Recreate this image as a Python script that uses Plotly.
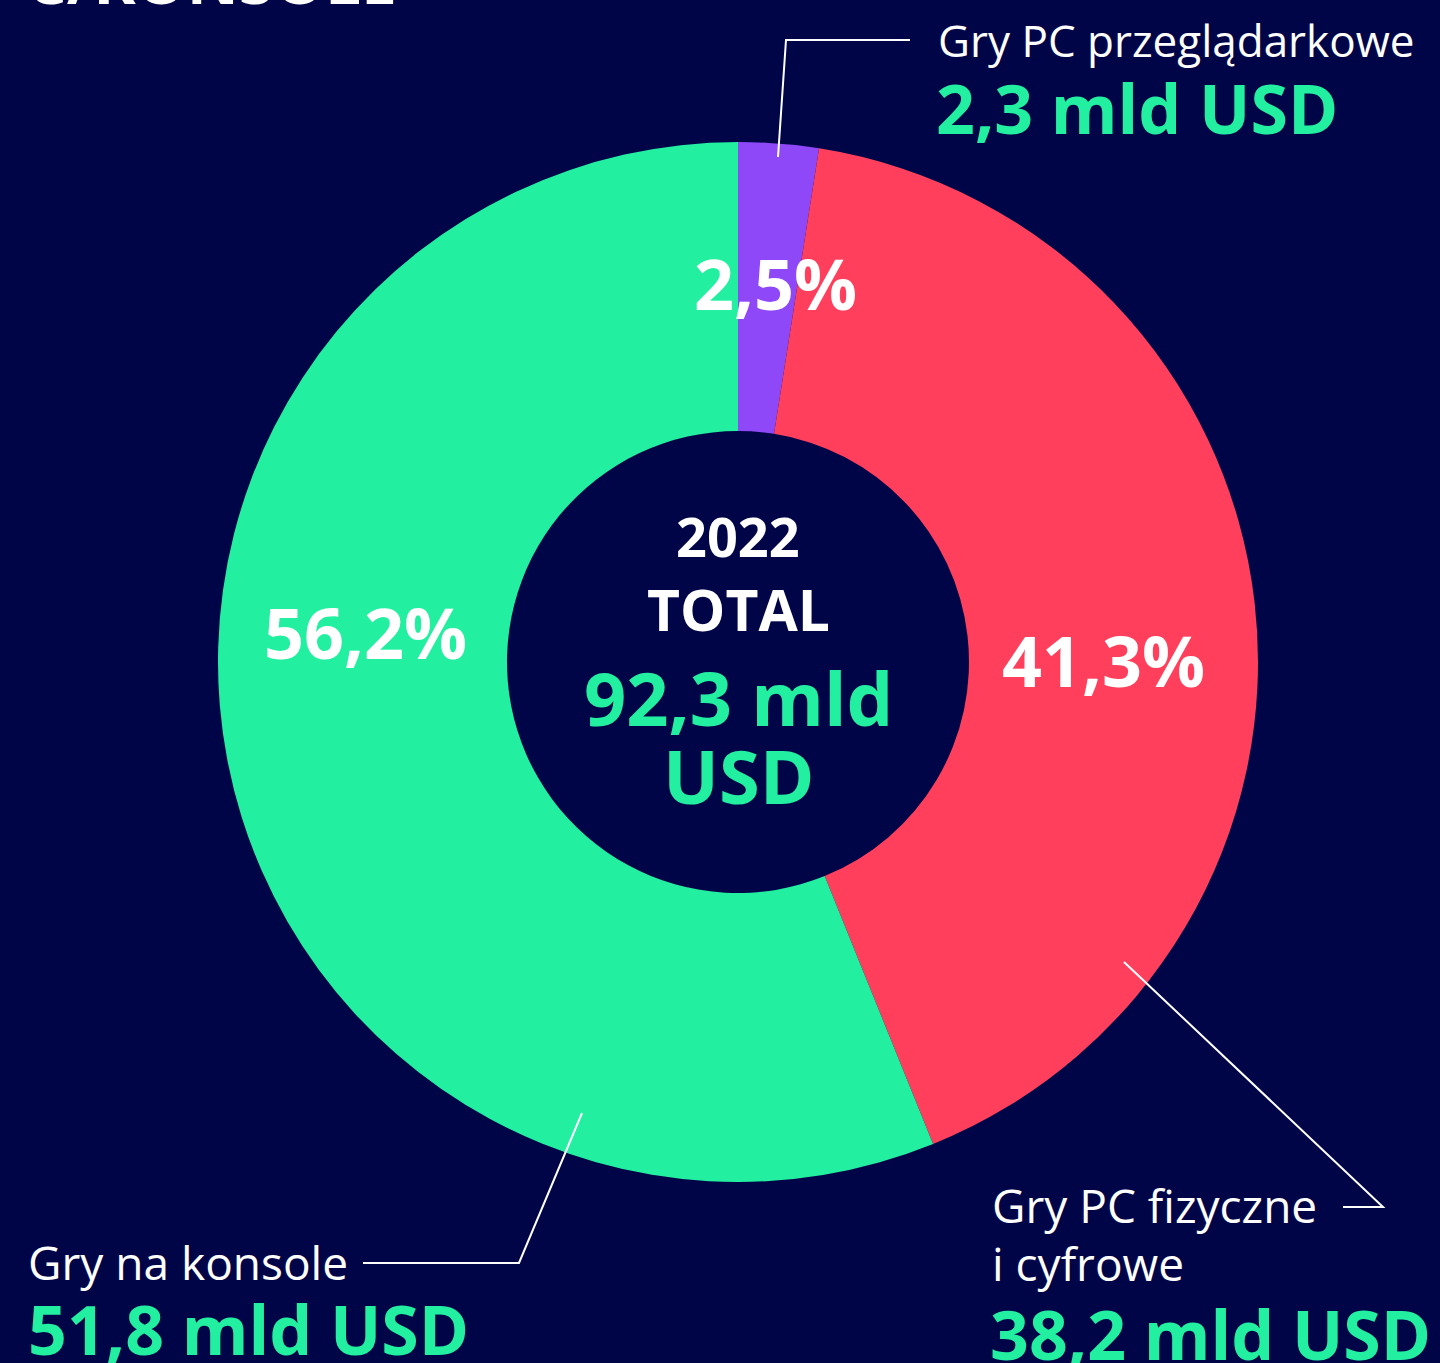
import plotly.graph_objects as go

categories = ["Gry PC przeglądarkowe", "Gry PC fizyczne i cyfrowe", "Gry na konsole"]
values = [2.3, 38.2, 51.8]
pct_labels = ["2,5%", "41,3%", "56,2%"]
value_labels = ["2,3 mld USD", "38,2 mld USD", "51,8 mld USD"]
colors = ["#8F48F7", "#FF3F5B", "#22F0A0"]
total_year = "2022"
total_label = "TOTAL"
total_value_lines = ["92,3 mld", "USD"]

BG = "#000548"
GREEN = "#22F0A0"
W, H = 1440, 1363
FONT = "Open Sans"

cx, cy, R = 738, 662, 520

fig = go.Figure()
fig.add_trace(go.Pie(
    labels=categories,
    values=values,
    marker=dict(colors=colors, line=dict(width=0)),
    hole=231 / 520,
    sort=False,
    direction="clockwise",
    rotation=0,
    textinfo="none",
    hoverinfo="label+value",
    showlegend=False,
    domain=dict(x=[(cx - R) / W, (cx + R) / W], y=[(H - cy - R) / H, (H - cy + R) / H]),
))

# invisible pixel axes for annotations/shapes
fig.add_trace(go.Scatter(x=[0, W], y=[0, H], mode="markers", marker=dict(opacity=0),
                         hoverinfo="skip", showlegend=False))

ann = []
def txt(x, y, s, size, color="white", bold=False, xanchor="center", yanchor="middle"):
    ann.append(dict(x=x, y=y, xref="x", yref="y", text=f"<b>{s}</b>" if bold else s,
                    showarrow=False, xanchor=xanchor, yanchor=yanchor,
                    font=dict(family=FONT, size=size, color=color)))

# cut-off heading at top
txt(24, 25, "C/KONSOLE", 64, bold=True, xanchor="left", yanchor="bottom")

# inner percentage labels
txt(775, 283, pct_labels[0], 70, bold=True)
txt(1103, 660, pct_labels[1], 70, bold=True)
txt(365, 632, pct_labels[2], 70, bold=True)

# centre
txt(738, 536, total_year, 54, bold=True)
txt(738, 609, total_label, 57, bold=True)
txt(738, 697, total_value_lines[0], 74, color=GREEN, bold=True)
txt(738, 775, total_value_lines[1], 74, color=GREEN, bold=True)

# outer labels
txt(936, 40, categories[0], 44, xanchor="left")
txt(934, 107, value_labels[0], 68, color=GREEN, bold=True, xanchor="left")
txt(990, 1205, "Gry PC fizyczne", 46, xanchor="left")
txt(990, 1263, "i cyfrowe", 46, xanchor="left")
txt(988, 1333, value_labels[1], 68, color=GREEN, bold=True, xanchor="left")
txt(26, 1262, categories[2], 46, xanchor="left")
txt(26, 1328, value_labels[2], 68, color=GREEN, bold=True, xanchor="left")

line = dict(color="white", width=2)
shapes = [
    dict(type="path", path="M 778 157 L 786 40 L 910 40", xref="x", yref="y", line=line),
    dict(type="path", path="M 1124 962 L 1383 1207 L 1343 1207", xref="x", yref="y", line=line),
    dict(type="path", path="M 582 1113 L 519 1263 L 363 1263", xref="x", yref="y", line=line),
]

fig.update_layout(
    width=W, height=H,
    margin=dict(l=0, r=0, t=0, b=0),
    paper_bgcolor=BG, plot_bgcolor="rgba(0,0,0,0)",
    xaxis=dict(range=[0, W], visible=False, fixedrange=True),
    yaxis=dict(range=[H, 0], visible=False, fixedrange=True),
    annotations=ann, shapes=shapes,
    font=dict(family=FONT),
)

fig.write_html(
    "out.html",
    config=dict(displayModeBar=False),
    post_script="document.body.style.margin='0';document.body.style.background='" + BG + "';",
)
